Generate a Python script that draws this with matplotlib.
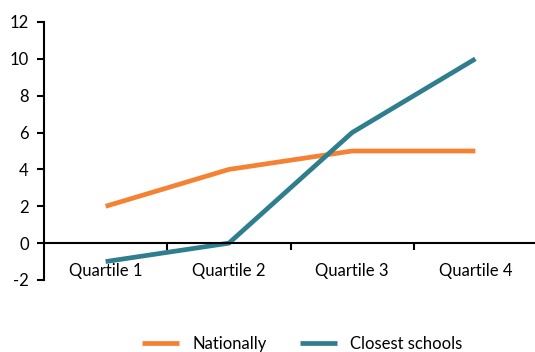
import matplotlib.pyplot as plt

plt.rcParams['font.family'] = ['Lato', 'DejaVu Sans']
plt.rcParams['axes.unicode_minus'] = False

quartiles = ['Quartile 1', 'Quartile 2', 'Quartile 3', 'Quartile 4']
nationally = [2, 4, 5, 5]
closest_schools = [-1, 0, 6, 10]

orange = '#F58233'
teal = '#2E7E8E'

fig = plt.figure(figsize=(5.35, 3.52), dpi=100)
ax = fig.add_axes([44 / 535, 1 - 280 / 352, 493 / 535, 258 / 352])

x = range(len(quartiles))
ax.plot(x, nationally, color=orange, lw=3.4, solid_capstyle='butt', label='Nationally')
ax.plot(x, closest_schools, color=teal, lw=3.4, solid_capstyle='butt', label='Closest schools')

ax.set_xlim(-0.5, 3.5)
ax.set_ylim(-2, 12)
ax.set_yticks(range(-2, 13, 2))

for side in ['top', 'right']:
    ax.spines[side].set_visible(False)
ax.spines['bottom'].set_position(('data', 0))
ax.spines['bottom'].set_linewidth(1.5)
ax.spines['left'].set_linewidth(1.5)

# category labels sit under the plot, tick marks sit between categories
ax.set_xticks(list(x))
ax.set_xticklabels(quartiles)
ax.set_xticks([0.5, 1.5, 2.5], minor=True)
ax.tick_params(axis='x', which='major', length=0, pad=14, labelsize=12)
ax.tick_params(axis='x', which='minor', length=5, width=1.5, direction='out')
ax.tick_params(axis='y', length=5, width=1.5, labelsize=12, pad=6)

fig.legend(loc='center', bbox_to_anchor=(0.565, 0.022), ncol=2, frameon=False,
           fontsize=12, handlelength=2.2, handletextpad=0.8, columnspacing=2.0)

fig.savefig('out.png', dpi=100)
